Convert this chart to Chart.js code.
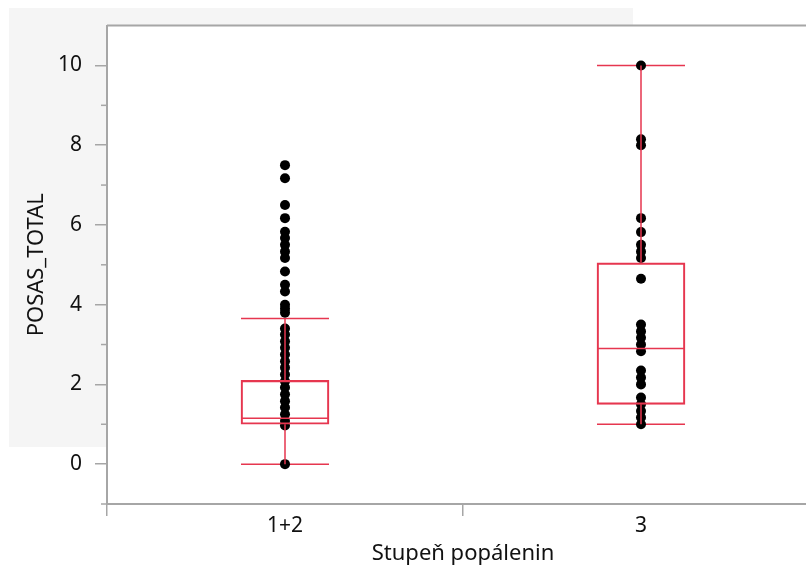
<!DOCTYPE html>
<html>
<head>
<meta charset="utf-8">
<script src="https://cdn.jsdelivr.net/npm/chart.js@4"></script>
<style>
  html, body { margin: 0; padding: 0; background: #fff; overflow: hidden; }
  #wrap { width: 830px; height: 570px; }
</style>
</head>
<body>
<div id="wrap"><canvas id="myChart" width="830" height="570"></canvas></div>
<script>
// groups on the x axis
const groups = ['1+2', '3'];

// box summary per group
const whiskerLow = [0, 1.0];
const q1 = [1.0, 1.5];
const median = [1.15, 2.9];
const q3 = [2.1, 5.05];
const whiskerHigh = [3.65, 10];

// raw points per group
const pts12 = [7.5, 7.17, 6.5, 6.17, 5.83, 5.67, 5.5, 5.33, 5.17, 4.83, 4.5, 4.33,
  4.0, 3.9, 3.8, 3.4, 3.25, 3.08, 2.92, 2.75, 2.58, 2.42, 2.25, 2.08, 1.92, 1.75,
  1.58, 1.42, 1.25, 1.08, 0.97, 0];
const pts3 = [10, 8.15, 8.0, 6.17, 5.82, 5.5, 5.33, 5.17, 4.65, 3.5, 3.33, 3.17,
  3.0, 2.83, 2.35, 2.17, 2.0, 1.67, 1.5, 1.33, 1.17, 1.0];

const yTicks = [0, 2, 4, 6, 8, 10];
const minorTicks = [-1, 1, 3, 5, 7, 9];

const RED = '#e6364f';
const AXIS = '#a6a6a6';
const TEXT = '#111';
const FONT = "'Noto Sans', sans-serif";
const BOX_W = 88;

const points = pts12.map(v => ({x: groups[0], y: v}))
  .concat(pts3.map(v => ({x: groups[1], y: v})));

// panel background + whiskers, caps, medians, frame
const boxPlugin = {
  id: 'boxParts',
  beforeDraw(chart) {
    const c = chart.ctx, a = chart.chartArea;
    c.save();
    c.fillStyle = '#f5f5f5';
    c.fillRect(9, 8, 624, 439);
    c.fillStyle = '#ffffff';
    c.fillRect(a.left, a.top, a.right - a.left, a.bottom - a.top);
    c.restore();
  },
  beforeDatasetsDraw(chart) {
    const c = chart.ctx, xs = chart.scales.x, ys = chart.scales.y;
    c.save();
    c.strokeStyle = RED;
    c.lineWidth = 1.5;
    groups.forEach((g, i) => {
      const cx = xs.getPixelForValue(i);
      [whiskerLow[i], whiskerHigh[i]].forEach(v => {
        const py = ys.getPixelForValue(v);
        c.beginPath();
        c.moveTo(cx - BOX_W / 2, py);
        c.lineTo(cx + BOX_W / 2, py);
        c.stroke();
      });
    });
    c.restore();
  },
  afterDatasetsDraw(chart) {
    const c = chart.ctx, xs = chart.scales.x, ys = chart.scales.y, a = chart.chartArea;
    c.save();
    c.strokeStyle = RED;
    c.lineWidth = 1.5;
    groups.forEach((g, i) => {
      const cx = xs.getPixelForValue(i);
      c.beginPath();
      c.moveTo(cx, ys.getPixelForValue(whiskerLow[i]));
      c.lineTo(cx, ys.getPixelForValue(q1[i]));
      c.moveTo(cx, ys.getPixelForValue(q3[i]));
      c.lineTo(cx, ys.getPixelForValue(whiskerHigh[i]));
      const my = ys.getPixelForValue(median[i]);
      c.moveTo(cx - BOX_W / 2, my);
      c.lineTo(cx + BOX_W / 2, my);
      c.stroke();
    });
    // top frame line
    c.strokeStyle = AXIS;
    c.lineWidth = 2;
    c.beginPath();
    c.moveTo(a.left, a.top);
    c.lineTo(a.right, a.top);
    c.stroke();
    // minor ticks
    c.lineWidth = 1.5;
    minorTicks.forEach(v => {
      const py = ys.getPixelForValue(v);
      c.beginPath();
      c.moveTo(a.left - 6, py);
      c.lineTo(a.left, py);
      c.stroke();
    });
    c.restore();
  }
};

const ctx = document.querySelector('#myChart').getContext('2d');
const chart = new Chart(ctx, {
  type: 'bar',
  data: {
    labels: groups,
    datasets: [
      {
        type: 'bar',
        data: groups.map((g, i) => [q1[i], q3[i]]),
        backgroundColor: 'rgba(0,0,0,0)',
        borderColor: RED,
        borderWidth: 1.5,
        borderSkipped: false,
        barThickness: BOX_W
      },
      {
        type: 'line',
        data: points,
        showLine: false,
        pointRadius: 5,
        pointHoverRadius: 5,
        pointBackgroundColor: '#000',
        pointBorderColor: '#000',
        pointBorderWidth: 0
      }
    ]
  },
  options: {
    responsive: false,
    animation: false,
    layout: { padding: { top: 24, right: 11, left: 0, bottom: 0 } },
    plugins: { legend: { display: false }, tooltip: { enabled: false } },
    scales: {
      x: {
        offset: true,
        afterFit(scale) { scale.height = 66; },
        grid: { offset: true, drawOnChartArea: false, tickLength: 12, color: AXIS, lineWidth: 1.5 },
        border: { color: AXIS, width: 2 },
        ticks: { color: TEXT, font: { family: FONT, size: 21 }, padding: -3 },
        title: {
          display: true, text: 'Stupeň popálenin', color: TEXT,
          font: { family: FONT, size: 22 }, padding: { top: 0, bottom: 3 }
        }
      },
      y: {
        min: -1,
        max: 11,
        afterFit(scale) { scale.width = 107; },
        afterBuildTicks(scale) { scale.ticks = yTicks.map(v => ({value: v})); },
        grid: { drawOnChartArea: false, tickLength: 12, color: AXIS, lineWidth: 1.5 },
        border: { color: AXIS, width: 2 },
        ticks: { color: TEXT, font: { family: FONT, size: 21 }, padding: 13 },
        title: {
          display: true, text: 'POSAS_TOTAL', color: TEXT,
          font: { family: FONT, size: 22 }, padding: { top: 24, bottom: 0 }
        }
      }
    }
  },
  plugins: [boxPlugin]
});
</script>
</body>
</html>
